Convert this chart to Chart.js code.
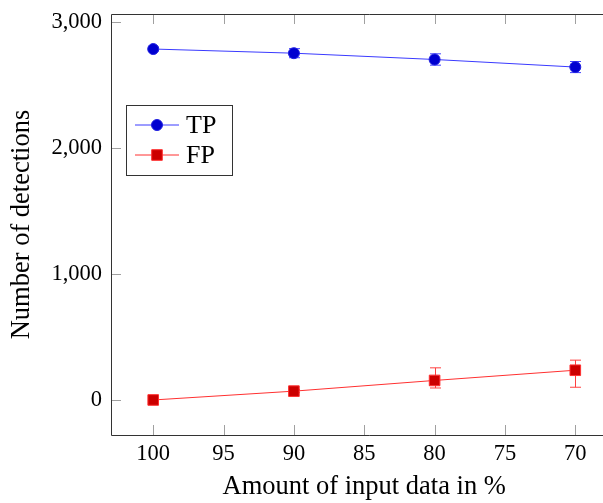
<!DOCTYPE html>
<html><head><meta charset="utf-8">
<script src="https://cdn.jsdelivr.net/npm/chart.js@4"></script>
<style>html,body{margin:0;padding:0;overflow:hidden;background:#fff}#wrap{width:626px;height:503px;position:relative}</style>
</head><body>
<div id="wrap"><canvas id="c" width="626" height="503"></canvas></div>
<script>
const xValues = [100, 90, 80, 70];
const tpValues = [2785, 2752, 2702, 2642];
const tpErrPlus = [15, 36, 45, 44];
const tpErrMinus = [15, 36, 45, 44];
const fpValues = [0, 70, 155, 236];
const fpErrPlus = [6, 12, 100, 80];
const fpErrMinus = [6, 12, 60, 135];
const xTicks = [100, 95, 90, 85, 80, 75, 70];
const yTicks = [0, 1000, 2000, 3000];
const seriesLabels = ['TP', 'FP'];

const FONT = "'Liberation Serif', 'Times New Roman', serif";

function zeroPad(s) { s.paddingLeft = 0; s.paddingRight = 0; s.paddingTop = 0; s.paddingBottom = 0; }

const errPlugin = {
  id: 'errbars',
  beforeDatasetsDraw(chart) {
    const ctx = chart.ctx, xs = chart.scales.x, ys = chart.scales.y;
    chart.data.datasets.forEach(ds => {
      ctx.save();
      ctx.strokeStyle = ds.errColor;
      ctx.lineWidth = 1;
      ds.data.forEach((p, i) => {
        const px = Math.round(xs.getPixelForValue(p.x)) + 0.5;
        const top = ys.getPixelForValue(p.y + ds.errPlus[i]);
        const bot = ys.getPixelForValue(p.y - ds.errMinus[i]);
        ctx.beginPath();
        ctx.moveTo(px, top); ctx.lineTo(px, bot);
        ctx.moveTo(px - 5.5, top); ctx.lineTo(px + 5.5, top);
        ctx.moveTo(px - 5.5, bot); ctx.lineTo(px + 5.5, bot);
        ctx.stroke();
      });
      ctx.restore();
    });
  }
};

const framePlugin = {
  id: 'frame',
  beforeDatasetsDraw(chart) {
    const ctx = chart.ctx, a = chart.chartArea, xs = chart.scales.x, ys = chart.scales.y;
    ctx.save();
    ctx.strokeStyle = '#a0a0a0';
    ctx.lineWidth = 1;
    ctx.beginPath();
    xs.ticks.forEach(t => {
      const px = Math.round(xs.getPixelForValue(t.value)) + 0.5;
      ctx.moveTo(px, a.bottom); ctx.lineTo(px, a.bottom - 10);
      ctx.moveTo(px, a.top); ctx.lineTo(px, a.top + 10);
    });
    ys.ticks.forEach(t => {
      const py = Math.round(ys.getPixelForValue(t.value)) + 0.5;
      ctx.moveTo(a.left, py); ctx.lineTo(a.left + 10, py);
    });
    ctx.stroke();
    ctx.restore();
  },
  afterDatasetsDraw(chart) {
    const ctx = chart.ctx, a = chart.chartArea;
    const l = Math.round(a.left) + 0.5, t = Math.round(a.top) + 0.5, b = Math.round(a.bottom) + 0.5;
    ctx.save();
    ctx.strokeStyle = '#333';
    ctx.lineWidth = 1;
    ctx.beginPath();
    ctx.moveTo(a.right + 20, t); ctx.lineTo(l, t); ctx.lineTo(l, b); ctx.lineTo(a.right + 20, b);
    ctx.stroke();
    ctx.restore();
  }
};

const legendPlugin = {
  id: 'boxlegend',
  afterDraw(chart) {
    const ctx = chart.ctx;
    const bx = 126.5, by = 105.5, bw = 106, bh = 70;
    ctx.save();
    ctx.fillStyle = '#fff';
    ctx.fillRect(bx, by, bw, bh);
    ctx.strokeStyle = '#333';
    ctx.lineWidth = 1;
    ctx.strokeRect(bx, by, bw, bh);
    chart.data.datasets.forEach((ds, i) => {
      const cy = 125 + i * 30;
      ctx.strokeStyle = ds.borderColor;
      ctx.lineWidth = 1;
      ctx.beginPath(); ctx.moveTo(135, cy); ctx.lineTo(179, cy); ctx.stroke();
      ctx.fillStyle = ds.pointBackgroundColor;
      ctx.strokeStyle = ds.pointBorderColor;
      Chart.helpers.drawPoint(ctx, {pointStyle: ds.pointStyle, radius: ds.pointRadius, borderWidth: 1, rotation: 0}, 157, cy);
      ctx.fillStyle = '#000';
      ctx.font = "26px " + FONT;
      ctx.textBaseline = 'middle';
      ctx.textAlign = 'left';
      ctx.fillText(ds.label, 186, cy + 1);
    });
    ctx.restore();
  }
};

new Chart(document.getElementById('c'), {
  type: 'line',
  data: {
    datasets: [
      {
        label: seriesLabels[0],
        data: xValues.map((x, i) => ({x, y: tpValues[i]})),
        errPlus: tpErrPlus, errMinus: tpErrMinus, errColor: '#4040ff',
        borderColor: '#3a3aff', borderWidth: 1,
        pointStyle: 'circle', pointRadius: 5.5,
        pointBackgroundColor: '#0000d0', pointBorderColor: '#2020e0', pointBorderWidth: 1,
        tension: 0
      },
      {
        label: seriesLabels[1],
        data: xValues.map((x, i) => ({x, y: fpValues[i]})),
        errPlus: fpErrPlus, errMinus: fpErrMinus, errColor: '#ff4040',
        borderColor: '#ff3030', borderWidth: 1,
        pointStyle: 'rect', pointRadius: 7.5,
        pointBackgroundColor: '#cc0000', pointBorderColor: '#ff3030', pointBorderWidth: 1,
        tension: 0
      }
    ]
  },
  options: {
    responsive: false,
    maintainAspectRatio: false,
    animation: false,
    devicePixelRatio: 1,
    layout: {padding: {left: 0, top: 14, right: 3, bottom: 0}},
    plugins: {legend: {display: false}, tooltip: {enabled: false}},
    scales: {
      x: {
        type: 'linear', reverse: true, min: 67, max: 103,
        afterBuildTicks: s => { s.ticks = xTicks.map(v => ({value: v})); },
        afterFit: s => { s.height = 68; zeroPad(s); },
        grid: {display: false, drawTicks: false},
        border: {display: false},
        ticks: {font: {family: FONT, size: 22.5}, color: '#000', padding: 6, maxRotation: 0,
                callback: v => String(v)},
        title: {display: true, text: 'Amount of input data in %', font: {family: FONT, size: 26.5},
                color: '#000', padding: {top: 0, bottom: 0}}
      },
      y: {
        type: 'linear', min: -278, max: 3063,
        afterBuildTicks: s => { s.ticks = yTicks.map(v => ({value: v})); },
        afterFit: s => { s.width = 111; zeroPad(s); },
        grid: {display: false, drawTicks: false},
        border: {display: false},
        ticks: {font: {family: FONT, size: 22.5}, color: '#000', padding: 9,
                callback: v => Number(v).toLocaleString('en-US')},
        title: {display: true, text: 'Number of detections', font: {family: FONT, size: 26.5},
                color: '#000', padding: {top: 6, bottom: 0}}
      }
    }
  },
  plugins: [errPlugin, framePlugin, legendPlugin]
});
</script>
</body></html>
